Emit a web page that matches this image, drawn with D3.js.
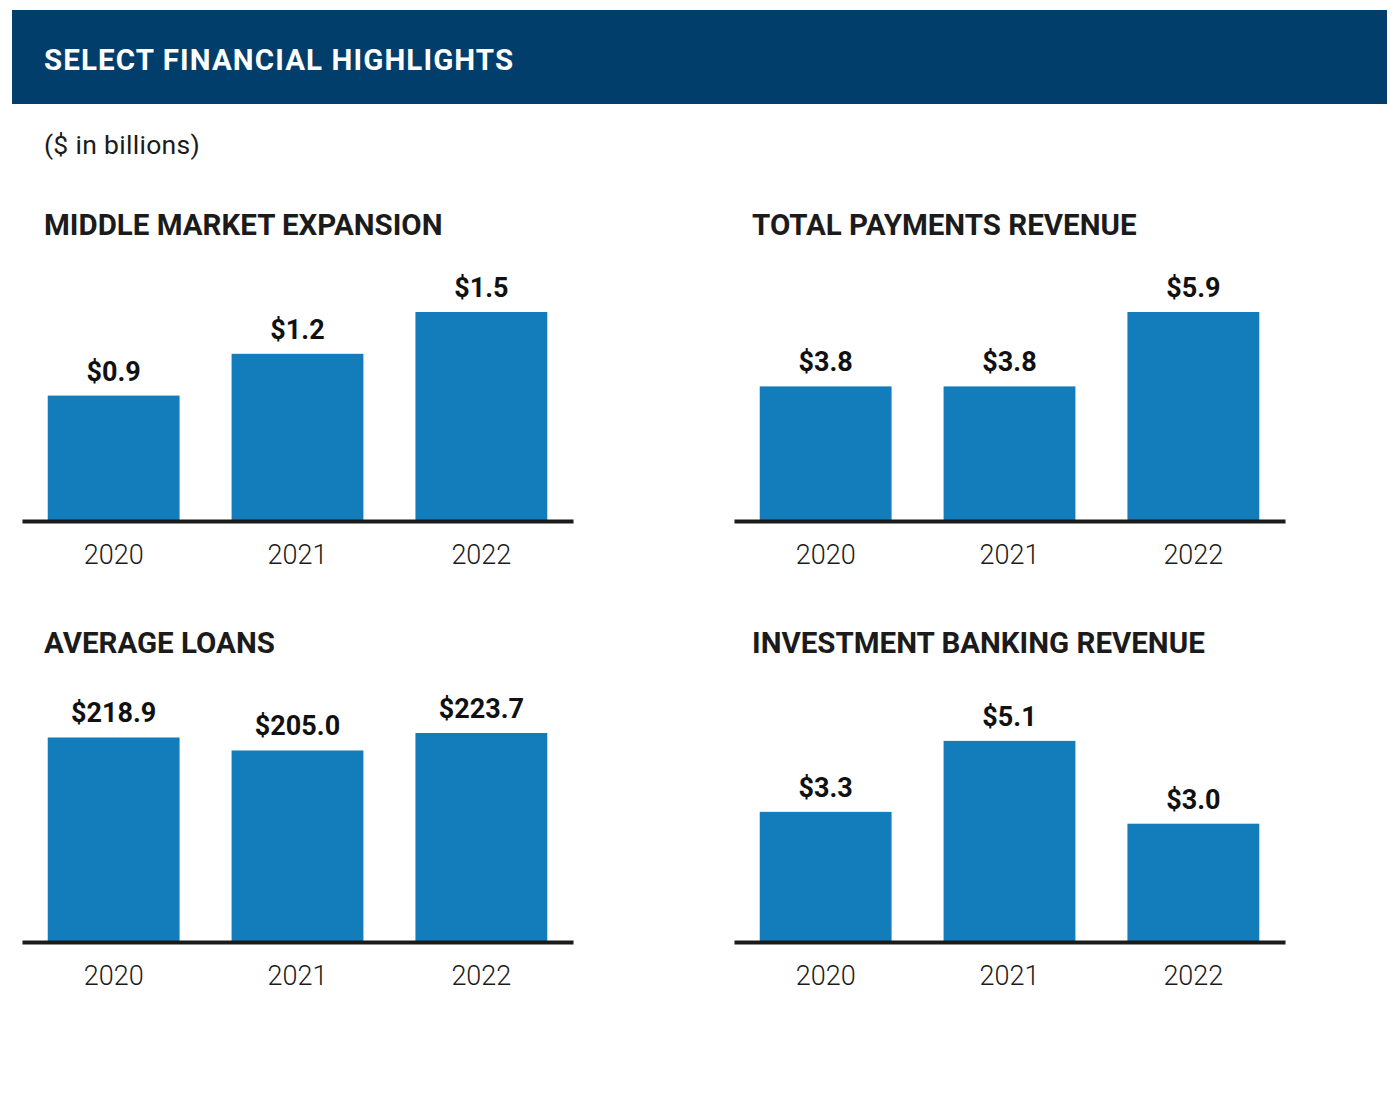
<!DOCTYPE html>
<html>
<head>
<meta charset="utf-8">
<script src="https://cdn.jsdelivr.net/npm/d3@7"></script>
<style>
  html, body { margin: 0; padding: 0; background: #ffffff; }
  svg { display: block; }
  text { font-family: Roboto, "Noto Sans", "Liberation Sans", sans-serif; }
</style>
</head>
<body>
<svg id="chart" width="1400" height="1101"></svg>
<script>
// ---- data ----
const years = ["2020", "2021", "2022"];
const middleMarketExpansion = [0.9, 1.2, 1.5];
const totalPaymentsRevenue = [3.8, 3.8, 5.9];
const averageLoans = [218.9, 205.0, 223.7];
const investmentBankingRevenue = [3.3, 5.1, 3.0];
const panelTitles = ["MIDDLE MARKET EXPANSION", "TOTAL PAYMENTS REVENUE", "AVERAGE LOANS", "INVESTMENT BANKING REVENUE"];
const headerTitle = "SELECT FINANCIAL HIGHLIGHTS";
const unitNote = "($ in billions)";

// ---- layout / style ----
const W = 1400, H = 1101;
const navy = "#013e6b", barBlue = "#137cbb", ink = "#1b1b1b";
const panels = [
  { title: panelTitles[0], values: middleMarketExpansion,    yMax: 1.5,   x0: 0,   titleX: 44,  titleY: 235, axisY: 521 },
  { title: panelTitles[1], values: totalPaymentsRevenue,     yMax: 5.9,   x0: 712, titleX: 40,  titleY: 235, axisY: 521 },
  { title: panelTitles[2], values: averageLoans,             yMax: 223.7, x0: 0,   titleX: 44,  titleY: 653, axisY: 942 },
  { title: panelTitles[3], values: investmentBankingRevenue, yMax: 5.3,   x0: 712, titleX: 40,  titleY: 653, axisY: 942 }
];
const maxBarH = 209;
const fmt = v => "$" + d3.format(".1f")(v);

const svg = d3.select("#chart");
svg.append("rect").attr("width", W).attr("height", H).attr("fill", "#fff");

// header
svg.append("rect").attr("x", 12).attr("y", 10).attr("width", 1375).attr("height", 94).attr("fill", navy);
svg.append("text").attr("x", 44).attr("y", 70)
  .attr("fill", "#fff").attr("font-size", 29.5).attr("font-weight", 700)
  .attr("letter-spacing", 1.1).text(headerTitle);

svg.append("text").attr("x", 44).attr("y", 154)
  .attr("fill", ink).attr("font-size", 26.5).attr("font-weight", 400)
  .attr("letter-spacing", 0.3).text(unitNote);

panels.forEach(p => {
  const g = svg.append("g").attr("transform", `translate(${p.x0},0)`);

  const x = d3.scaleBand().domain(years).range([22, 573])
    .paddingInner(0.283).paddingOuter(0.14);
  const y = d3.scaleLinear().domain([0, p.yMax]).range([p.axisY, p.axisY - maxBarH]);

  g.append("text").attr("x", p.titleX).attr("y", p.titleY)
    .attr("fill", ink).attr("font-size", 29.5).attr("font-weight", 700)
    .text(p.title);

  const data = years.map((yr, i) => ({ year: yr, value: p.values[i] }));

  g.selectAll("rect.bar").data(data).enter().append("rect")
    .attr("class", "bar")
    .attr("x", d => x(d.year))
    .attr("width", x.bandwidth())
    .attr("y", d => y(d.value))
    .attr("height", d => y(0) - y(d.value))
    .attr("fill", barBlue);

  g.selectAll("text.val").data(data).enter().append("text")
    .attr("class", "val")
    .attr("x", d => x(d.year) + x.bandwidth() / 2)
    .attr("y", d => y(d.value) - 15)
    .attr("text-anchor", "middle")
    .attr("fill", "#111").attr("font-size", 27).attr("font-weight", 700)
    .text(d => fmt(d.value));

  const axis = d3.axisBottom(x).tickSizeInner(0).tickSizeOuter(0).tickPadding(24);
  const ag = g.append("g").attr("transform", `translate(0,${y(0)})`).call(axis);
  ag.select(".domain").attr("stroke", ink).attr("stroke-width", 4);
  ag.selectAll(".tick text")
    .attr("fill", ink).attr("font-size", 27).attr("font-weight", 300)
    .attr("font-family", "Roboto, 'Noto Sans', sans-serif");
});
</script>
</body>
</html>
